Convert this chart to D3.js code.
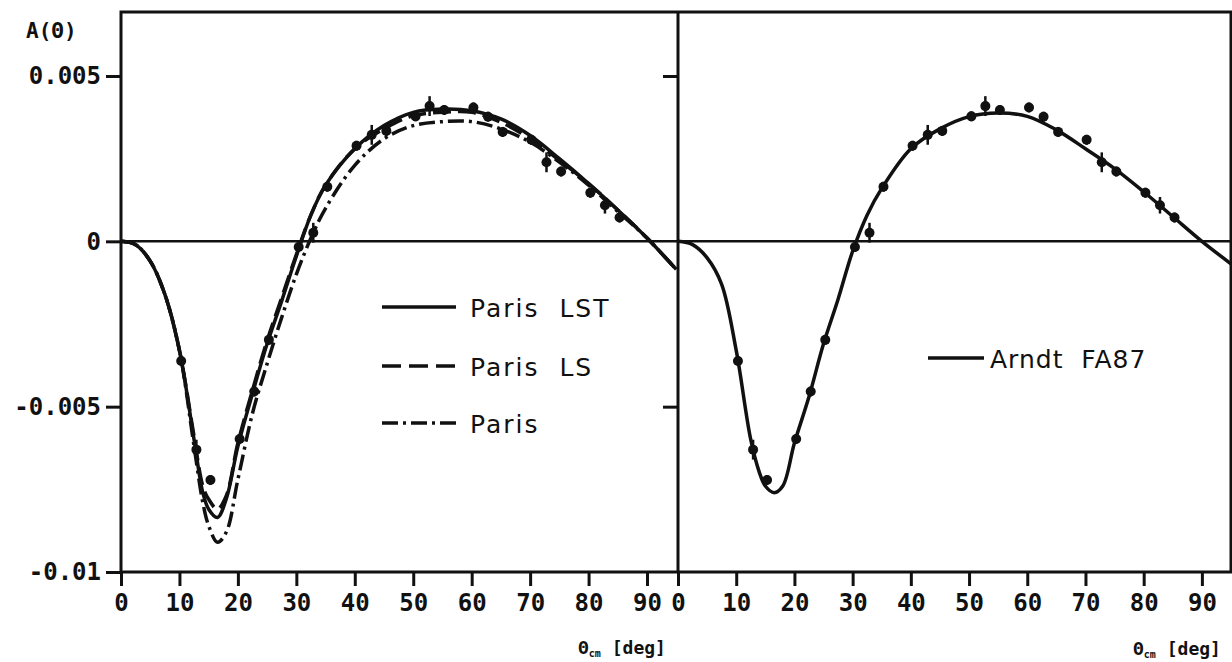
<!DOCTYPE html>
<html lang="en">
<head>
<meta charset="UTF-8">
<title>Analysing power A(θ)</title>
<script src="https://d3js.org/d3.v7.min.js"></script>
<style>
  body { margin: 0; background: #fff; }
  svg { display: block; }
  .tick text { font-family: "DejaVu Sans Mono", monospace; font-weight: bold; font-size: 24px; fill: #111; }
  .tick line { stroke: #111; stroke-width: 3; }
  .legend text { font-family: "DejaVu Sans", sans-serif; font-size: 25px; fill: #111; white-space: pre; }
  .title { font-family: "DejaVu Sans Mono", monospace; font-weight: bold; fill: #111; }
</style>
</head>
<body>
<div id="chart"></div>
<script>
// measured points (same set in both panels)
const angles = [10.3, 12.9, 15.3, 20.3, 22.8, 25.3, 30.4, 32.9, 35.3, 40.3, 42.9, 45.4,
                50.4, 52.8, 55.3, 60.3, 62.8, 65.3, 70.2, 72.8, 75.3, 80.3, 82.8, 85.3];
const asym   = [-0.00362, -0.0063, -0.00722, -0.00598, -0.00454, -0.00298, -0.00017, 0.00026,
                0.00165, 0.00289, 0.00322, 0.00334, 0.00378, 0.00409, 0.00397, 0.00405,
                0.00377, 0.00331, 0.00307, 0.00239, 0.00211, 0.00147, 0.00109, 0.00072];
const errs   = [0.00015, 0.0003, 0.00015, 0.00015, 0.00015, 0.00015, 0.00015, 0.0003, 0.00015, 0.00015,
                0.0003, 0.00015, 0.00015, 0.0003, 0.00015, 0.00015, 0.00015, 0.00015, 0.00015, 0.0003,
                0.00015, 0.00015, 0.00025, 0.00015];

// theory curves
const thGrid    = [0, 2.5, 5, 7.5, 10, 12.5, 14, 15, 16.5, 18, 20, 22.5, 25, 27.5, 30, 32.5, 35,
                   40, 45, 50, 55, 60, 65, 70, 75, 80, 85, 90, 95];
const parisLST  = [0, -0.0001, -0.0006, -0.0016, -0.0033, -0.0060, -0.0076, -0.0081, -0.00835, -0.0078,
                   -0.0062, -0.0046, -0.0031, -0.0018, -0.00045, 0.0008, 0.0017, 0.0028, 0.0035, 0.0039,
                   0.0040, 0.00395, 0.0037, 0.0032, 0.0025, 0.00175, 0.00095, 0.0001, -0.00085];
const parisLS   = [0, -0.0001, -0.0006, -0.0016, -0.0033, -0.0059, -0.0074, -0.0078, -0.0081, -0.0077,
                   -0.0061, -0.0045, -0.0030, -0.0017, -0.0004, 0.0008, 0.0017, 0.0028, 0.0034, 0.0038,
                   0.0039, 0.0039, 0.0036, 0.0031, 0.00245, 0.00175, 0.00095, 0.0001, -0.00085];
const paris     = [0, -0.0001, -0.0006, -0.0016, -0.0033, -0.0062, -0.0079, -0.0086, -0.0091, -0.0088,
                   -0.0072, -0.0052, -0.0037, -0.0023, -0.0010, 0.0001, 0.0010, 0.0023, 0.0031, 0.0035,
                   0.00362, 0.00362, 0.0034, 0.0030, 0.0024, 0.0017, 0.0009, 0.0001, -0.00085];
const arndtFA87 = [0, -0.0001, -0.0005, -0.0013, -0.0033, -0.0060, -0.0070, -0.0074, -0.0076, -0.0074,
                   -0.0061, -0.0047, -0.0031, -0.00175, -0.0003, 0.0008, 0.0016, 0.0028, 0.0034, 0.00377,
                   0.00388, 0.00378, 0.00337, 0.0028, 0.0022, 0.0015, 0.00075, 0.0, -0.00068];

const xTicks = [0, 10, 20, 30, 40, 50, 60, 70, 80, 90];
const yTicks = [0.005, 0, -0.005, -0.01];
const yTickLabels = ["0.005", "0", "-0.005", "-0.01"];

const W = 1232, H = 662;
const yTop = 12, yBot = 572;
const x0 = 121, xMid = 678, x1 = 1231;

const svg = d3.select("#chart").append("svg").attr("width", W).attr("height", H);

const y = d3.scaleLinear().domain([-0.01, 0.005]).range([yBot, 76]);
const xL = d3.scaleLinear().domain([0, 95.3]).range([x0, xMid]);
const xR = d3.scaleLinear().domain([0, 95]).range([xMid, x1]);

// clip areas
const defs = svg.append("defs");
defs.append("clipPath").attr("id", "clipL").append("rect")
  .attr("x", x0).attr("y", yTop).attr("width", xMid - x0).attr("height", yBot - yTop);
defs.append("clipPath").attr("id", "clipR").append("rect")
  .attr("x", xMid).attr("y", yTop).attr("width", x1 - xMid).attr("height", yBot - yTop);

// axes
const yAx = svg.append("g").attr("transform", `translate(${x0},0)`)
  .call(d3.axisLeft(y).tickValues(yTicks).tickSize(15).tickPadding(5)
    .tickFormat((d, i) => yTickLabels[i]));
yAx.select(".domain").remove();

const yAxR = svg.append("g").attr("transform", `translate(${xMid},0)`)
  .call(d3.axisLeft(y).tickValues([0.005, -0.005]).tickSize(15).tickFormat(""));
yAxR.select(".domain").remove();

[xL, xR].forEach(sc => {
  const g = svg.append("g").attr("transform", `translate(0,${yBot})`)
    .call(d3.axisBottom(sc).tickValues(xTicks).tickSize(14).tickPadding(8).tickFormat(d => d));
  g.select(".domain").remove();
});
svg.selectAll("g").filter(function () { return this.hasAttribute("font-family"); })
  .attr("font-family", null).attr("font-size", null);

// frame
const frame = svg.append("g").attr("fill", "none").attr("stroke", "#111").attr("stroke-width", 3);
frame.append("path").attr("d", `M${x0},${yBot}V${yTop}H${x1}V${yBot}H${x0}`);
frame.append("line").attr("x1", xMid).attr("x2", xMid).attr("y1", yTop).attr("y2", yBot);
frame.append("line").attr("x1", x0).attr("x2", x1).attr("y1", y(0)).attr("y2", y(0))
  .attr("stroke-width", 2.5);

// curves
function drawCurve(sc, clip, vals, dash) {
  const line = d3.line().x((d, i) => sc(thGrid[i])).y(d => y(d)).curve(d3.curveCatmullRom.alpha(0.5));
  svg.append("path").datum(vals)
    .attr("clip-path", `url(#${clip})`)
    .attr("fill", "none").attr("stroke", "#111").attr("stroke-width", 3.5)
    .attr("stroke-dasharray", dash)
    .attr("d", line);
}
drawCurve(xL, "clipL", paris, "16,5,3,5");
drawCurve(xL, "clipL", parisLS, "18,7");
drawCurve(xL, "clipL", parisLST, null);
drawCurve(xR, "clipR", arndtFA87, null);

// data points
function drawPoints(sc) {
  const g = svg.append("g");
  g.selectAll("line").data(angles).join("line")
    .attr("x1", d => sc(d)).attr("x2", d => sc(d))
    .attr("y1", (d, i) => y(asym[i] - errs[i])).attr("y2", (d, i) => y(asym[i] + errs[i]))
    .attr("stroke", "#111").attr("stroke-width", 2.5);
  g.selectAll("circle").data(angles).join("circle")
    .attr("cx", d => sc(d)).attr("cy", (d, i) => y(asym[i]))
    .attr("r", 5).attr("fill", "#111");
}
drawPoints(xL);
drawPoints(xR);

// legends
const legL = svg.append("g").attr("class", "legend");
const legRows = [
  { label: "Paris  LST", dash: null, y: 307 },
  { label: "Paris  LS", dash: "19,8", y: 366 },
  { label: "Paris", dash: "16,5,3,5", y: 423 }
];
legRows.forEach(r => {
  legL.append("line").attr("x1", 382).attr("x2", 456).attr("y1", r.y).attr("y2", r.y)
    .attr("stroke", "#111").attr("stroke-width", 3.5).attr("stroke-dasharray", r.dash);
  legL.append("text").attr("x", 470).attr("y", r.y + 10).attr("font-size", 26)
    .attr("letter-spacing", 2).text(r.label);
});
const legR = svg.append("g").attr("class", "legend");
legR.append("line").attr("x1", 928).attr("x2", 984).attr("y1", 358).attr("y2", 358)
  .attr("stroke", "#111").attr("stroke-width", 3.5);
legR.append("text").attr("x", 990).attr("y", 368).attr("letter-spacing", 1).text("Arndt  FA87");

// titles
svg.append("text").attr("class", "title").attr("x", 26).attr("y", 38)
  .attr("font-size", 21).text("A(Θ)");

function xTitle(xPos, yPos) {
  const t = svg.append("text").attr("class", "title").attr("x", xPos).attr("y", yPos)
    .attr("font-size", 18);
  t.append("tspan").text("Θ");
  t.append("tspan").attr("font-size", 10).attr("dy", 3).text("cm");
  t.append("tspan").attr("dy", -3).text(" [deg]");
}
xTitle(578, 654);
xTitle(1133, 655);
</script>
</body>
</html>
